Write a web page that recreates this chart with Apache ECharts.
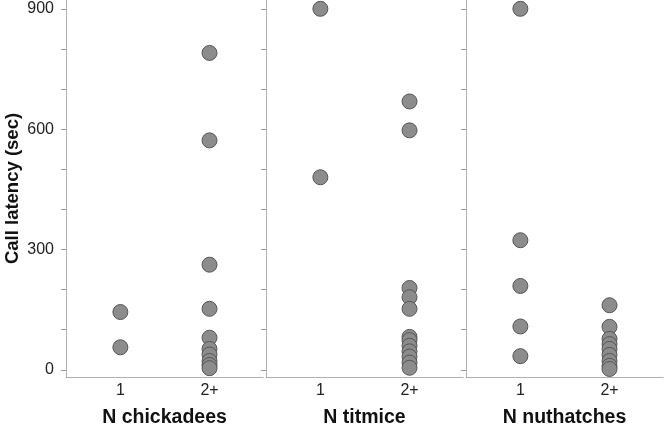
<!DOCTYPE html>
<html>
<head>
<meta charset="utf-8">
<script src="https://cdn.jsdelivr.net/npm/echarts@6/dist/echarts.min.js"></script>
<style>
  html, body { margin: 0; padding: 0; background: #fff; }
  #chart { width: 666px; height: 426px; }
</style>
</head>
<body>
<div id="chart"></div>
<script>
// group labels on the x axis (1 = one bird, 2 = two or more)
const groupLabels = ["1", "2+"];
const panelTitles = ["N chickadees", "N titmice", "N nuthatches"];

// call latency (sec)
const chickadeeOne = [144, 56];
const chickadeeMany = [790, 572, 262, 152, 80, 52, 38, 22, 12, 4];
const titmouseOne = [900, 480];
const titmouseMany = [669, 597, 204, 181, 152, 82, 74, 60, 46, 33, 18, 5];
const nuthatchOne = [900, 323, 209, 108, 34];
const nuthatchMany = [161, 107, 77, 64, 52, 37, 22, 10, 2];

const yTicks = [0, 100, 200, 300, 400, 500, 600, 700, 800, 900];
const yLabels = [0, 300, 600, 900];

const panels = [
  [chickadeeOne, chickadeeMany],
  [titmouseOne, titmouseMany],
  [nuthatchOne, nuthatchMany]
];

const font = "Liberation Sans, Arial, sans-serif";
const gridLefts = [66, 266, 466];

const chart = echarts.init(document.getElementById("chart"));

const option = {
  animation: false,
  textStyle: { fontFamily: font },
  grid: gridLefts.map(l => ({ left: l, width: 197, top: 0, bottom: 49, outerBoundsMode: "none" })),
  xAxis: panelTitles.map((t, i) => ({
    type: "value",
    gridIndex: i,
    min: 0.39,
    max: 2.6,
    name: t,
    nameLocation: "middle",
    nameGap: 31,
    nameTextStyle: { fontSize: 19.5, fontWeight: "bold", color: "#111", fontFamily: font },
    axisLine: { show: true, onZero: false, lineStyle: { color: "#b0b0b0", width: 1 } },
    axisTick: { show: false },
    splitLine: { show: false },
    axisLabel: {
      customValues: [1, 2],
      formatter: v => groupLabels[Math.round(v) - 1],
      fontSize: 16,
      color: "#222",
      margin: 6,
      fontFamily: font
    }
  })),
  yAxis: panelTitles.map((t, i) => ({
    type: "value",
    gridIndex: i,
    min: -18,
    max: 922,
    name: i === 0 ? "Call latency (sec)" : "",
    nameLocation: "middle",
    nameGap: 44,
    nameTextStyle: { fontSize: 18.5, fontWeight: "bold", color: "#111", fontFamily: font },
    axisLine: { show: true, onZero: false, lineStyle: { color: "#b0b0b0", width: 1 } },
    axisTick: { show: true, customValues: yTicks, length: 5, lineStyle: { color: "#999" } },
    splitLine: { show: false },
    axisLabel: {
      show: i === 0,
      customValues: yLabels,
      fontSize: 16,
      color: "#222",
      margin: 12,
      fontFamily: font
    }
  })),
  series: panels.flatMap((p, i) =>
    p.map((vals, g) => ({
      type: "scatter",
      xAxisIndex: i,
      yAxisIndex: i,
      symbolSize: 15,
      itemStyle: { color: "#8c8c8c", borderColor: "#555", borderWidth: 1, opacity: 1 },
      data: vals.map(v => [g + 1, v])
    }))
  )
};

chart.setOption(option);
window.addEventListener("resize", () => chart.resize());
</script>
</body>
</html>
